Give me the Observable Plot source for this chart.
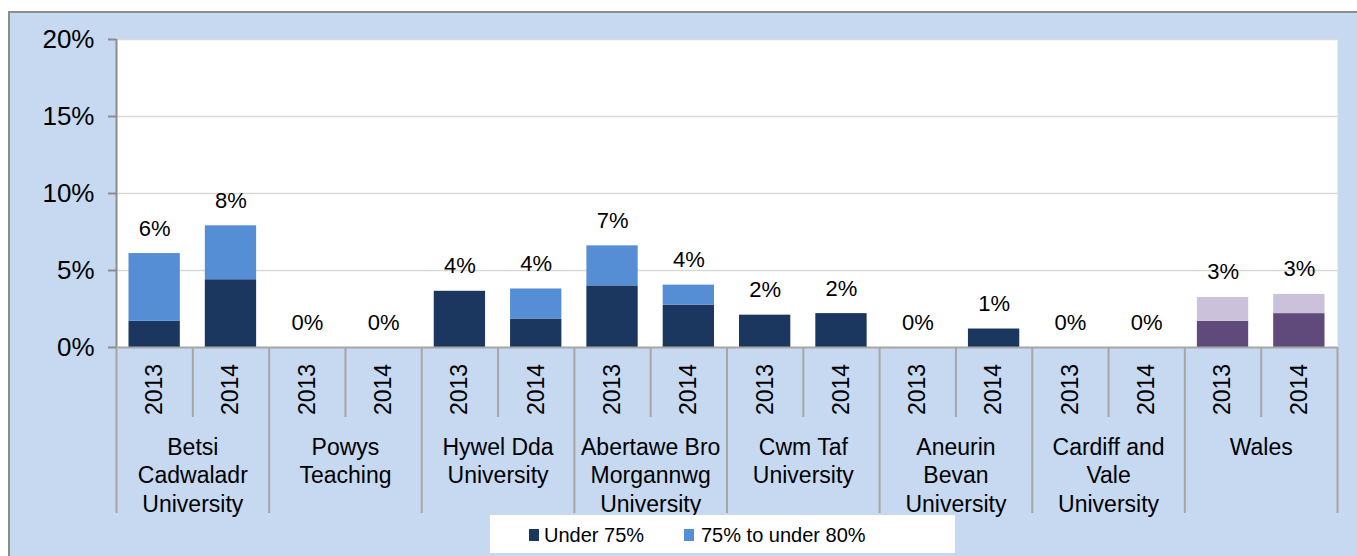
<!DOCTYPE html>
<html><head><meta charset="utf-8">
<script src="https://cdn.jsdelivr.net/npm/d3@7"></script>
<script src="https://cdn.jsdelivr.net/npm/@observablehq/plot@0.6"></script>
<style>
body{margin:0;background:#fff;font-family:"Liberation Sans",Arial,sans-serif;}
#wrap{position:relative;width:1357px;height:556px;overflow:hidden;background:#fff;}
#chart{position:absolute;left:8px;top:11px;border-left:2px solid #8c8c8c;border-top:2px solid #8c8c8c;}
#chart svg{display:block;}
#legend{position:absolute;left:490px;top:515px;width:465px;height:38px;background:#fff;font-size:20px;color:#000;}
#legend .sw{position:absolute;width:10px;height:12px;top:14px;}
#legend .lb{position:absolute;top:8px;line-height:24px;white-space:nowrap;}
</style></head><body>
<div id="wrap"><div id="chart"></div><div id="legend"></div></div>
<script>
// ---- data ----
const boards = ["Betsi\nCadwaladr\nUniversity","Powys\nTeaching","Hywel Dda\nUniversity","Abertawe Bro\nMorgannwg\nUniversity","Cwm Taf\nUniversity","Aneurin\nBevan\nUniversity","Cardiff and\nVale\nUniversity","Wales"];
const years = ["2013","2014"];
// values per board x year (2013, 2014), as fractions
const under75    = [0.017,0.044, 0,0, 0.0365,0.0185, 0.040,0.0275, 0.021,0.022, 0,0.012, 0,0, 0.017,0.022];
const from75to80 = [0.044,0.035, 0,0, 0,0.0195, 0.026,0.013, 0,0, 0,0, 0,0, 0.0155,0.0125];
const totalLabels = ["6%","8%","0%","0%","4%","4%","7%","4%","2%","2%","0%","1%","0%","0%","3%","3%"];
const yTicks = [0,0.05,0.10,0.15,0.20];
const seriesNames = ["Under 75%","75% to under 80%"];
const boardColors = {dark:"#1b375f", light:"#558ed5"};
const walesColors = {dark:"#604a7b", light:"#ccc1da"};

// ---- build tables ----
const bars = [];
const segs = [];
boards.forEach((b, bi) => {
  years.forEach((yr, yi) => {
    const i = bi * 2 + yi;
    const u = under75[i], v = from75to80[i];
    const pal = b === "Wales" ? walesColors : boardColors;
    bars.push({i, board: b, year: yr, total: u + v, label: totalLabels[i]});
    segs.push({i, series: seriesNames[0], y1: 0, y2: u, color: pal.dark});
    segs.push({i, series: seriesNames[1], y1: u, y2: u + v, color: pal.light});
  });
});
const groups = boards.map((b, bi) => ({bi, board: b}));
const groupEdges = d3.range(0, boards.length * 2 + 1, 2);
const yearEdges = d3.range(1, boards.length * 2, 2);

const font = "Liberation Sans, Arial, sans-serif";
const chart = Plot.plot({
  width: 1347,
  height: 543,
  marginLeft: 106,
  marginRight: 20,
  marginTop: 26,
  marginBottom: 209,
  style: {background: "#c6d9f1", fontFamily: font, color: "#000", overflow: "visible"},
  x: {type: "linear", domain: [0, boards.length * 2], axis: null},
  y: {domain: [0, 0.2], axis: null},
  color: {type: "identity"},
  marks: [
    Plot.frame({fill: "white", stroke: "none"}),
    Plot.ruleY(yTicks.filter(t => t > 0), {stroke: "#d9d9d9", strokeWidth: 1.5}),
    Plot.rect(segs.filter(d => d.y2 > d.y1), {x1: "i", x2: d => d.i + 1, y1: "y1", y2: "y2", fill: "color", insetLeft: 12.5, insetRight: 12.5}),
    Plot.ruleX([0], {stroke: "#8c8c8c", strokeWidth: 2}),
    Plot.ruleY([0], {stroke: "#a6a6a6", strokeWidth: 2}),
    Plot.ruleX(groupEdges, {x: d => d, y1: () => 0, y2: () => 0, insetBottom: -166, stroke: "#a6a6a6", strokeWidth: 2}),
    Plot.ruleX(yearEdges, {x: d => d, y1: () => 0, y2: () => 0, insetBottom: -70, stroke: "#a6a6a6", strokeWidth: 2}),
    Plot.axisY(yTicks, {tickFormat: d3.format(".0%"), tickSize: 8, tickPadding: 14, fontSize: 26, stroke: "#8c8c8c", strokeWidth: 2, label: null, fill: "#000"}),
    Plot.text(bars, {x: d => d.i + 0.5, y: "total", text: "label", dy: -25, fontSize: 22, fill: "#000"}),
    Plot.text(bars, {x: d => d.i + 0.5, y: () => 0, text: "year", rotate: -90, dy: 42, fontSize: 23, fill: "#000", textAnchor: "middle", lineAnchor: "middle"}),
    Plot.text(groups, {x: d => d.bi * 2 + 1, y: () => 0, text: "board", lineAnchor: "top", dy: 88, fontSize: 23, lineHeight: 1.22, fill: "#000"})
  ]
});
document.getElementById("chart").appendChild(chart);

// ---- legend ----
const legend = document.getElementById("legend");
const legendItems = [
  {name: seriesNames[0], color: boardColors.dark, sx: 39, tx: 54},
  {name: seriesNames[1], color: boardColors.light, sx: 194, tx: 211}
];
legendItems.forEach(it => {
  const sw = document.createElement("div");
  sw.className = "sw"; sw.style.left = it.sx + "px"; sw.style.background = it.color;
  const lb = document.createElement("div");
  lb.className = "lb"; lb.style.left = it.tx + "px"; lb.textContent = it.name;
  legend.appendChild(sw); legend.appendChild(lb);
});
</script>
</body></html>
